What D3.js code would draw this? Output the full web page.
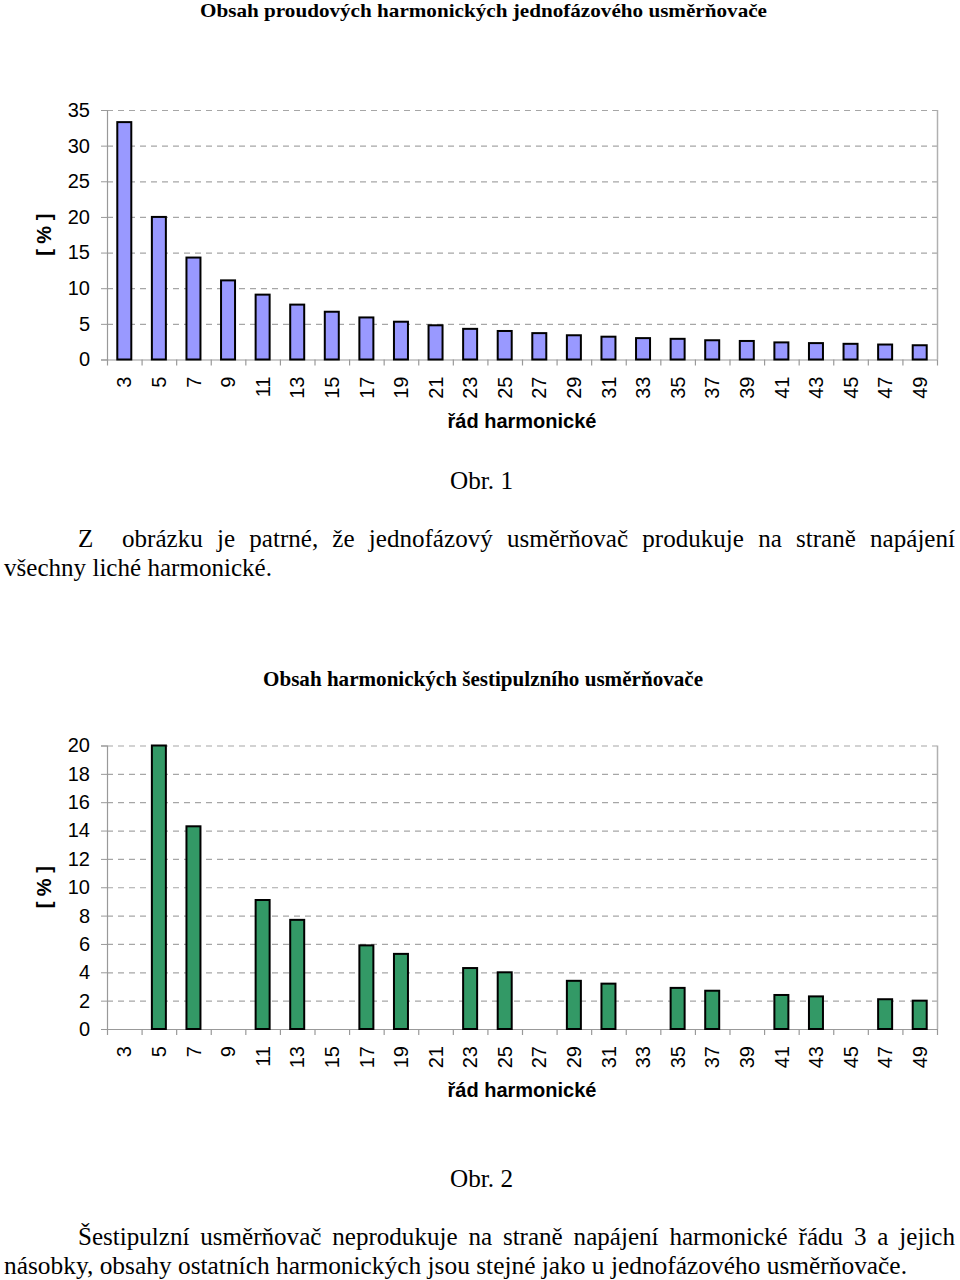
<!DOCTYPE html>
<html><head><meta charset="utf-8">
<script src="https://cdn.jsdelivr.net/npm/d3@7"></script>
<style>
html,body{margin:0;padding:0;background:#fff;}
svg{display:block;}
</style>
</head><body>
<svg id="c" width="960" height="1280"></svg>
<script>
// ---- data ----
const harmonics = ["3","5","7","9","11","13","15","17","19","21","23","25","27","29","31","33","35","37","39","41","43","45","47","49"];
const singlePhase = [33.3,20,14.3,11.1,9.1,7.7,6.7,5.9,5.3,4.8,4.3,4.0,3.7,3.4,3.2,3.0,2.9,2.7,2.6,2.4,2.3,2.2,2.1,2.0];
const sixPulse = [null,20,14.3,null,9.1,7.7,null,5.9,5.3,null,4.3,4.0,null,3.4,3.2,null,2.9,2.7,null,2.4,2.3,null,2.1,2.0];
const ticks1 = [0,5,10,15,20,25,30,35];
const ticks2 = [0,2,4,6,8,10,12,14,16,18,20];
const title1 = "Obsah proudových harmonických jednofázového usměrňovače";
const title2 = "Obsah harmonických šestipulzního usměrňovače";
const xTitle = "řád harmonické";
const yTitle = "[ % ]";

const svg = d3.select("#c");
const SANS = "'Liberation Sans', Arial, sans-serif";
const SERIF = "'Liberation Serif', 'Times New Roman', serif";

function drawChart(opt){
  const g = svg.append("g");
  const x = d3.scaleBand().domain(harmonics).range([107,937]).padding(0);
  const y = d3.scaleLinear().domain([0, opt.max]).range([opt.bottom, opt.top]);
  const bw = 14;
  // gridlines
  g.append("g").selectAll("line").data(opt.ticks.filter(t=>t>0)).join("line")
    .attr("x1",107).attr("x2",937)
    .attr("y1",d=>y(d)+0.5).attr("y2",d=>y(d)+0.5)
    .attr("stroke","#a6a6a6").attr("stroke-width",1.2).attr("stroke-dasharray","6,5");
  // right border
  g.append("line").attr("x1",937.5).attr("x2",937.5).attr("y1",opt.top).attr("y2",opt.bottom)
    .attr("stroke","#b0b0b0").attr("stroke-width",1.5);
  // y axis
  const ya = d3.axisLeft(y).tickValues(opt.ticks).tickSize(6).tickPadding(10);
  const yg = g.append("g").attr("transform","translate(107,0)").call(ya);
  yg.select(".domain").attr("stroke","#999").attr("stroke-width",1.2);
  yg.selectAll(".tick line").attr("stroke","#999");
  yg.selectAll("text").attr("font-family",SANS).attr("font-size",20).attr("fill","#000").attr("dx",-1);
  // x axis
  const xa = d3.axisBottom(x).tickSize(0).tickPadding(0);
  const xg = g.append("g").attr("transform",`translate(0,${opt.bottom})`).call(xa);
  xg.select(".domain").attr("stroke","#999").attr("stroke-width",1.2);
  xg.selectAll(".tick text")
    .attr("font-family",SANS).attr("font-size",20).attr("fill","#000")
    .attr("text-anchor","end")
    .attr("transform","translate(0,17) rotate(-90)")
    .attr("x",0).attr("y",0).attr("dy","0.36em");
  // boundary ticks
  const bounds = harmonics.map(h=>x(h)).concat([x.range()[1]]);
  g.append("g").selectAll("line").data(bounds).join("line")
    .attr("x1",d=>d+0.5).attr("x2",d=>d+0.5)
    .attr("y1",opt.bottom).attr("y2",opt.bottom+6)
    .attr("stroke","#999").attr("stroke-width",1.2);
  // bars
  const data = harmonics.map((h,i)=>({h, v:opt.values[i]})).filter(d=>d.v!=null);
  g.append("g").selectAll("rect").data(data).join("rect")
    .attr("x",d=>x(d.h)+(x.bandwidth()-bw)/2)
    .attr("y",d=>y(d.v))
    .attr("width",bw)
    .attr("height",d=>y(0)-y(d.v))
    .attr("fill",opt.color).attr("stroke","#000").attr("stroke-width",2);
  // axis titles
  g.append("text").attr("x",522).attr("y",opt.bottom+68)
    .attr("text-anchor","middle").attr("font-family",SANS).attr("font-weight","bold")
    .attr("font-size",20).text(xTitle);
  g.append("text").attr("transform",`translate(44,${(opt.top+opt.bottom)/2}) rotate(-90)`)
    .attr("text-anchor","middle").attr("dy","0.35em").attr("font-family",SANS).attr("font-weight","bold")
    .attr("font-size",20).text(yTitle);
  // chart title
  g.append("text").attr("x",opt.titleX).attr("y",opt.titleY)
    .attr("font-family",SERIF).attr("font-weight","bold").attr("font-size",opt.titleFs)
    .attr("textLength",opt.titleW).attr("lengthAdjust","spacingAndGlyphs")
    .text(opt.title);
}

drawChart({values:singlePhase, max:35, ticks:ticks1, top:110, bottom:359.5, color:"#9999ff",
  title:title1, titleX:200, titleY:17, titleW:567, titleFs:19});
drawChart({values:sixPulse, max:20, ticks:ticks2, top:745.5, bottom:1029, color:"#339966",
  title:title2, titleX:263, titleY:686, titleW:440, titleFs:21});

// ---- body text ----
const FS = 26;
const tg = svg.append("g").attr("font-family",SERIF).attr("font-size",FS).attr("fill","#000");
function measure(str){
  const t = tg.append("text").text(str);
  const w = t.node().getComputedTextLength();
  t.remove(); return w;
}
const squeeze = 268 / measure("všechny liché harmonické.");
function plain(str,x0,y,w){
  tg.append("text").attr("x",x0).attr("y",y)
    .attr("textLength", w!=null ? w : measure(str)*squeeze).attr("lengthAdjust","spacingAndGlyphs").text(str);
}
function justify(str,x0,x1,y){
  const words = str.split(" ");
  const ws = words.map(w=>measure(w)*squeeze);
  const gap = (x1-x0-d3.sum(ws))/(words.length-1);
  let x = x0;
  words.forEach((w,i)=>{
    tg.append("text").attr("x",x).attr("y",y).attr("textLength",ws[i]).attr("lengthAdjust","spacingAndGlyphs").text(w);
    x += ws[i]+gap;
  });
}
plain("Obr. 1",450,489,63);
plain("Z",78,547);
justify("obrázku je patrné, že jednofázový usměrňovač produkuje na straně napájení",122,955,547);
plain("všechny liché harmonické.",4,576,268);
plain("Obr. 2",450,1187,63);
justify("Šestipulzní usměrňovač neprodukuje na straně napájení harmonické řádu 3 a jejich",78,955,1245);
plain("násobky, obsahy ostatních harmonických jsou stejné jako u jednofázového usměrňovače.",4,1274,903);
</script>
</body></html>
